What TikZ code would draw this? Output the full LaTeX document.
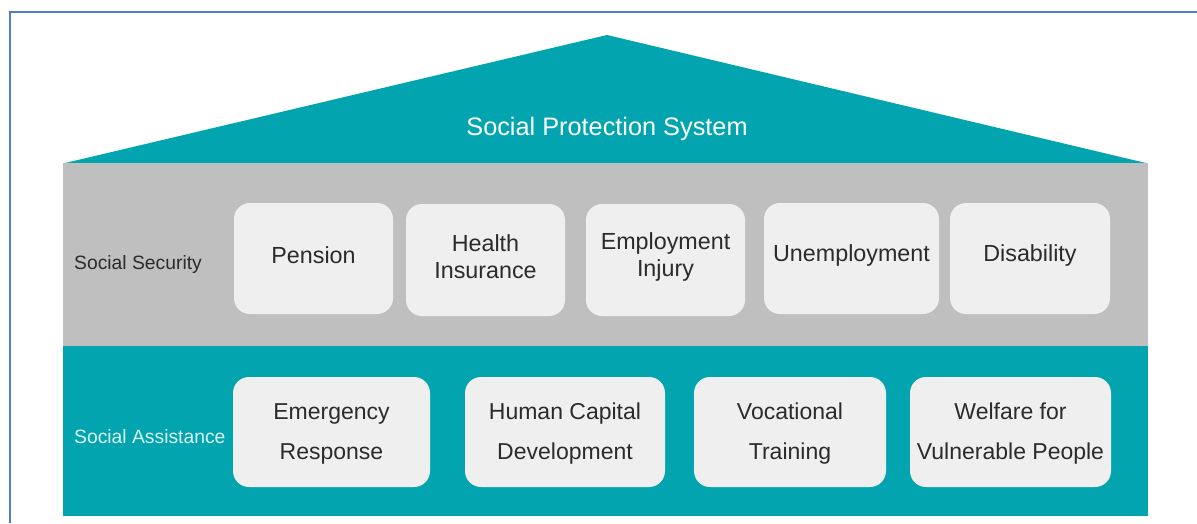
\documentclass[tikz,border=0pt]{standalone}
\usepackage{fontspec}
\setmainfont{Liberation Sans}
\definecolor{teal1}{HTML}{02A4AF}
\definecolor{band}{HTML}{BFBFBF}
\definecolor{boxfill}{HTML}{EFEFEF}
\definecolor{frameblue}{HTML}{4F81BD}
\definecolor{boxtext}{HTML}{2B2B2B}
\definecolor{satext}{HTML}{DDF6F6}
\begin{document}
\begin{tikzpicture}[x=1pt,y=-1pt,
  itembox/.style={draw=none,fill=boxfill,rounded corners=16pt,inner sep=0pt,
    text=boxtext,align=center},
  toprow/.style={itembox,font=\fontsize{23.3}{27}\selectfont},
  botrow/.style={itembox,font=\fontsize{23}{40}\selectfont},
  toptext/.style={inner sep=0pt,text=boxtext,align=center,font=\fontsize{23.3}{27}\selectfont,yshift=3pt},
  bottext/.style={inner sep=0pt,text=boxtext,align=center,font=\fontsize{23}{40}\selectfont,yshift=-2pt},
  rowlabel/.style={anchor=west,inner sep=0pt,font=\fontsize{19.3}{22}\selectfont}]
\useasboundingbox (0,0) rectangle (1197,523);
% frame
\draw[frameblue,line width=2pt] (10,523) -- (10,12) -- (1197,12);
% roof
\fill[teal1] (63,163.5) -- (607,35) -- (1148,163.5) -- cycle;
\node[text=white,font=\fontsize{25.3}{30}\selectfont,inner sep=0pt] (title) at (607,129) {Social Protection System};
% bands
\fill[band] (63,163) rectangle (1148,346);
\fill[teal1] (63,346) rectangle (1148,516);
\node[rowlabel,text=boxtext] (ss) at (74,265) {Social Security};
\node[rowlabel,text=satext] (sa) at (74,437) {Social Assistance};
% top row
\node[toprow,minimum width=159pt,minimum height=111pt] (pension) at (313.5,258.5) {};
\node[toptext] (pensiont) at (pension.center) {Pension};
\node[toprow,minimum width=159pt,minimum height=112pt] (health) at (485.5,260) {};
\node[toptext] (healtht) at (health.center) {Health\\Insurance};
\node[toprow,minimum width=159pt,minimum height=112pt] (injury) at (665.5,260) {};
\node[toptext] (injuryt) at (injury.center) {Employment\\Injury};
\node[toprow,minimum width=175pt,minimum height=111pt] (unemp) at (851.5,258.5) {};
\node[toptext] (unempt) at (unemp.center) {Unemployment};
\node[toprow,minimum width=160pt,minimum height=111pt] (disab) at (1030,258.5) {};
\node[toptext] (disabt) at (disab.center) {Disability};
% bottom row
\node[botrow,minimum width=197pt,minimum height=110pt] (emerg) at (331.5,432) {};
\node[bottext] (emergt) at (emerg.center) {Emergency\\Response};
\node[botrow,minimum width=200pt,minimum height=110pt] (human) at (565,432) {};
\node[bottext] (humant) at (human.center) {Human Capital\\Development};
\node[botrow,minimum width=192pt,minimum height=110pt] (voc) at (790,432) {};
\node[bottext] (voct) at (voc.center) {Vocational\\Training};
\node[botrow,minimum width=201pt,minimum height=110pt] (welf) at (1010.5,432) {};
\node[bottext] (welft) at (welf.center) {Welfare for\\Vulnerable People};
\end{tikzpicture}
\end{document}
